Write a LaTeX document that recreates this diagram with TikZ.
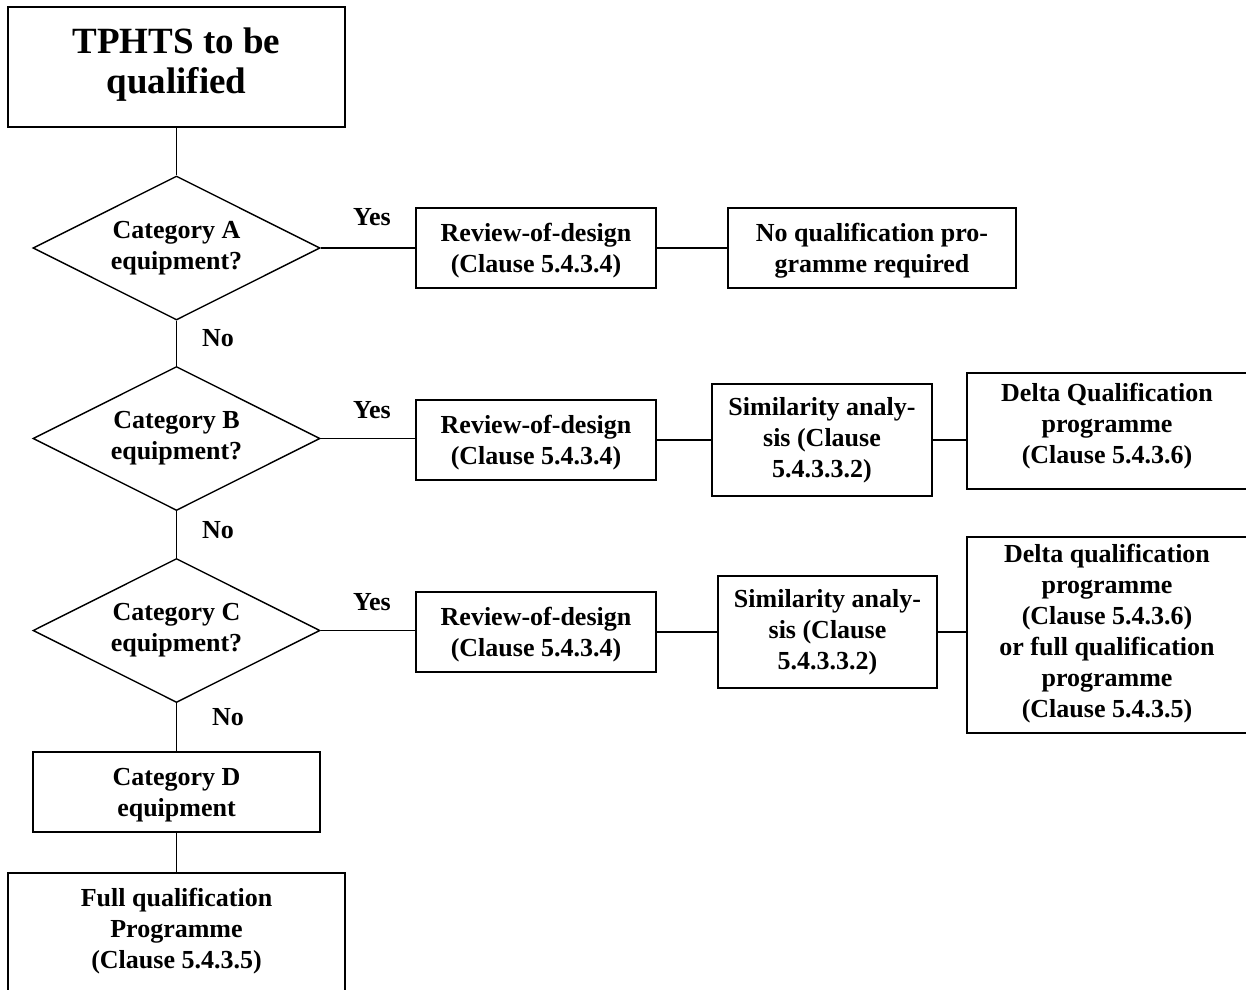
\documentclass[tikz,border=0pt]{standalone}
\usepackage{fontspec}
\setmainfont{Liberation Serif}
\usetikzlibrary{shapes.geometric}
\begin{document}
\begin{tikzpicture}[x=1pt,y=-1pt,
  every node/.style={font=\fontsize{26}{31}\selectfont\bfseries, align=center, inner sep=0pt},
  box/.style={draw, line width=1.8pt, rectangle},
  dec/.style={draw, line width=1.4pt, diamond, aspect=2, minimum width=287pt, minimum height=144pt},
  conn/.style={line width=1.2pt},
  lbl/.style={}]
\useasboundingbox (0,0) rectangle (1246,989);
% title
\node[box, minimum width=337pt, minimum height=120pt] (title) at (176.5,67) {};
\node[font=\fontsize{37}{40}\selectfont\bfseries] (titletext) at (176.5,65) {TPHTS to be\\qualified};
% diamonds
\node[dec] (dA) at (176.5,248) {Category A\\equipment?};
\node[dec] (dB) at (176.5,438.5) {Category B\\equipment?};
\node[dec] (dC) at (176.5,630.5) {Category C\\equipment?};
% row A
\node[box, minimum width=240pt, minimum height=80pt] (revA) at (536,248) {};
\node (revAtext) at (536,251) {Review-of-design\\(Clause 5.4.3.4)};
\node[box, minimum width=288pt, minimum height=80pt] (noq) at (872,248) {};
\node (noqtext) at (872,251) {No qualification pro-\\gramme required};
% row B
\node[box, minimum width=240pt, minimum height=80pt] (revB) at (536,440) {};
\node (revBtext) at (536,443) {Review-of-design\\(Clause 5.4.3.4)};
\node[box, minimum width=220pt, minimum height=112pt] (simB) at (822,440) {Similarity analy-\\sis (Clause\\5.4.3.3.2)};
\node[box, minimum width=283pt, minimum height=116pt] (deltaB) at (1108.5,431) {};
\node (deltaBtext) at (1107,426) {Delta Qualification\\programme\\(Clause 5.4.3.6)};
% row C
\node[box, minimum width=240pt, minimum height=80pt] (revC) at (536,632) {};
\node (revCtext) at (536,635) {Review-of-design\\(Clause 5.4.3.4)};
\node[box, minimum width=219pt, minimum height=112pt] (simC) at (827.5,632) {Similarity analy-\\sis (Clause\\5.4.3.3.2)};
\node[box, minimum width=283pt, minimum height=196pt] (deltaC) at (1108.5,635) {};
\node (deltaCtext) at (1107,634) {Delta qualification\\programme\\(Clause 5.4.3.6)\\or full qualification\\programme\\(Clause 5.4.3.5)};
% D
\node[box, minimum width=287pt, minimum height=80pt] (catD) at (176.5,792) {};
\node (catDtext) at (176.5,795) {Category D\\equipment};
\node[box, minimum width=337pt, minimum height=140pt, anchor=north] (full) at (176.5,872) {};
\node (fulltext) at (176.5,931) {Full qualification\\Programme\\(Clause 5.4.3.5)};
% labels
\node (yA) at (372,217) {Yes};
\node (yB) at (372,410) {Yes};
\node (yC) at (372,602) {Yes};
\node (nA) at (218,338) {No};
\node (nB) at (218,530) {No};
\node (nC) at (228,717) {No};
% connectors
\draw[conn] (title.south) -- (dA.north);
\draw[conn] (dA.east) -- (dA.east -| revA.west);
\draw[conn] (revA.east) -- (noq.west);
\draw[conn] (dA.south) -- (dB.north);
\draw[conn] (dB.east) -- (dB.east -| revB.west);
\draw[conn] (revB.east) -- (revB.east -| simB.west);
\draw[conn] (simB.east) -- (simB.east -| deltaB.west);
\draw[conn] (dB.south) -- (dC.north);
\draw[conn] (dC.east) -- (dC.east -| revC.west);
\draw[conn] (revC.east) -- (revC.east -| simC.west);
\draw[conn] (simC.east) -- (simC.east -| deltaC.west);
\draw[conn] (dC.south) -- (catD.north);
\draw[conn] (catD.south) -- (full.north);
\end{tikzpicture}
\end{document}
